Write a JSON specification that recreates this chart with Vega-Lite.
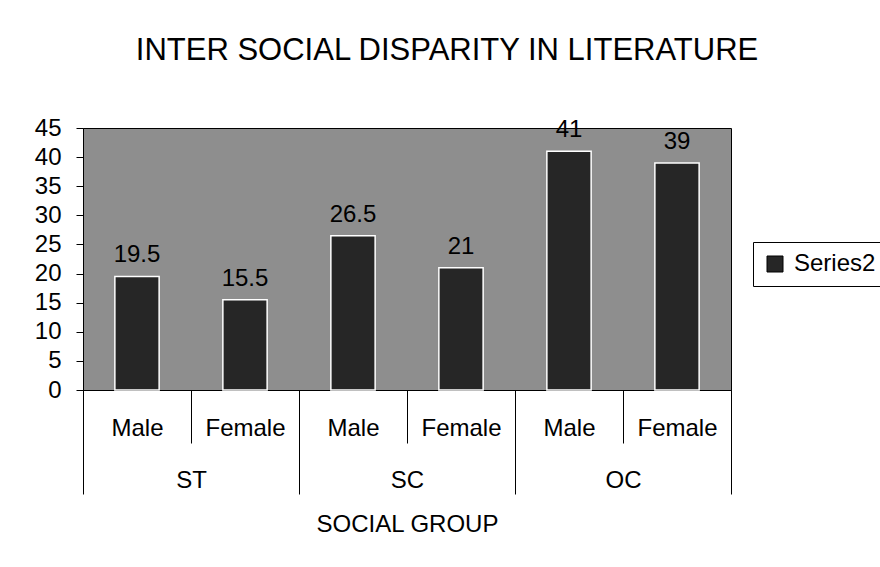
{
  "$schema": "https://vega.github.io/schema/vega-lite/v6.json",
  "width": 648,
  "height": 262,
  "autosize": {"type": "none"},
  "padding": {"left": 83, "top": 128, "right": 149, "bottom": 177},
  "background": "white",
  "config": {
    "font": "Liberation Sans",
    "view": {"fill": "#8e8e8e", "stroke": "#000000", "strokeWidth": 1}
  },
  "title": {
    "text": "INTER SOCIAL DISPARITY IN LITERATURE",
    "fontSize": 31,
    "fontWeight": "normal",
    "color": "#000000",
    "anchor": "middle",
    "dx": 40,
    "offset": -143
  },
  "data": {
    "values": [
      {"group": "ST", "gender": "Male", "key": "ST-Male", "value": 19.5, "series": "Series2"},
      {"group": "ST", "gender": "Female", "key": "ST-Female", "value": 15.5, "series": "Series2"},
      {"group": "SC", "gender": "Male", "key": "SC-Male", "value": 26.5, "series": "Series2"},
      {"group": "SC", "gender": "Female", "key": "SC-Female", "value": 21, "series": "Series2"},
      {"group": "OC", "gender": "Male", "key": "OC-Male", "value": 41, "series": "Series2"},
      {"group": "OC", "gender": "Female", "key": "OC-Female", "value": 39, "series": "Series2"}
    ]
  },
  "encoding": {
    "y": {
      "field": "value",
      "type": "quantitative",
      "scale": {"domain": [0, 45]},
      "title": null,
      "axis": {
        "values": [0, 5, 10, 15, 20, 25, 30, 35, 40, 45],
        "grid": false,
        "tickSize": 7,
        "tickColor": "#000000",
        "domainColor": "#000000",
        "labelPadding": 15,
        "labelFontSize": 24,
        "labelColor": "#000000",
        "labelOverlap": false
      }
    }
  },
  "layer": [
    {
      "layer": [
        {
          "mark": {"type": "bar", "width": {"band": 0.41}, "stroke": "#ffffff", "strokeWidth": 1.5},
          "encoding": {
            "x": {
              "field": "key",
              "type": "nominal",
              "sort": null,
              "scale": {"paddingInner": 0, "paddingOuter": 0},
              "title": null,
              "axis": {
                "orient": "bottom",
                "labelExpr": "split(datum.label, '-')[1]",
                "tickBand": "extent",
                "tickSize": 53,
                "tickColor": "#000000",
                "tickWidth": 1,
                "domainColor": "#000000",
                "labelFontSize": 24,
                "labelColor": "#000000",
                "labelPadding": -27,
                "labelAngle": 0,
                "labelBaseline": "top"
              }
            },
            "color": {
              "field": "series",
              "type": "nominal",
              "scale": {"range": ["#262626"]},
              "legend": {
                "orient": "none",
                "legendX": 670,
                "legendY": 114,
                "title": null,
                "labelFontSize": 24,
                "labelColor": "#000000",
                "symbolType": "square",
                "symbolSize": 256,
                "symbolStrokeColor": "#000000",
                "symbolStrokeWidth": 1,
                "strokeColor": "#000000",
                "padding": 10,
                "labelOffset": 7
              }
            }
          }
        },
        {
          "mark": {"type": "text", "fontSize": 24, "baseline": "alphabetic", "dy": -14, "color": "#000000"},
          "encoding": {
            "x": {"field": "key", "type": "nominal", "sort": null},
            "text": {"field": "value", "type": "nominal"}
          }
        }
      ]
    },
    {
      "mark": {"type": "bar", "opacity": 0},
      "encoding": {
        "x": {
          "field": "group",
          "type": "nominal",
          "sort": null,
          "scale": {"paddingInner": 0, "paddingOuter": 0},
          "title": "SOCIAL GROUP",
          "axis": {
            "orient": "bottom",
            "tickBand": "extent",
            "tickSize": 104,
            "tickColor": "#000000",
            "tickWidth": 1,
            "domain": false,
            "labelFontSize": 24,
            "labelColor": "#000000",
            "labelPadding": -26,
            "labelAngle": 0,
            "labelBaseline": "top",
            "titleFontSize": 24,
            "titleFontWeight": "normal",
            "titleColor": "#000000",
            "titlePadding": 18
          }
        }
      }
    }
  ],
  "resolve": {"scale": {"x": "independent"}}
}
